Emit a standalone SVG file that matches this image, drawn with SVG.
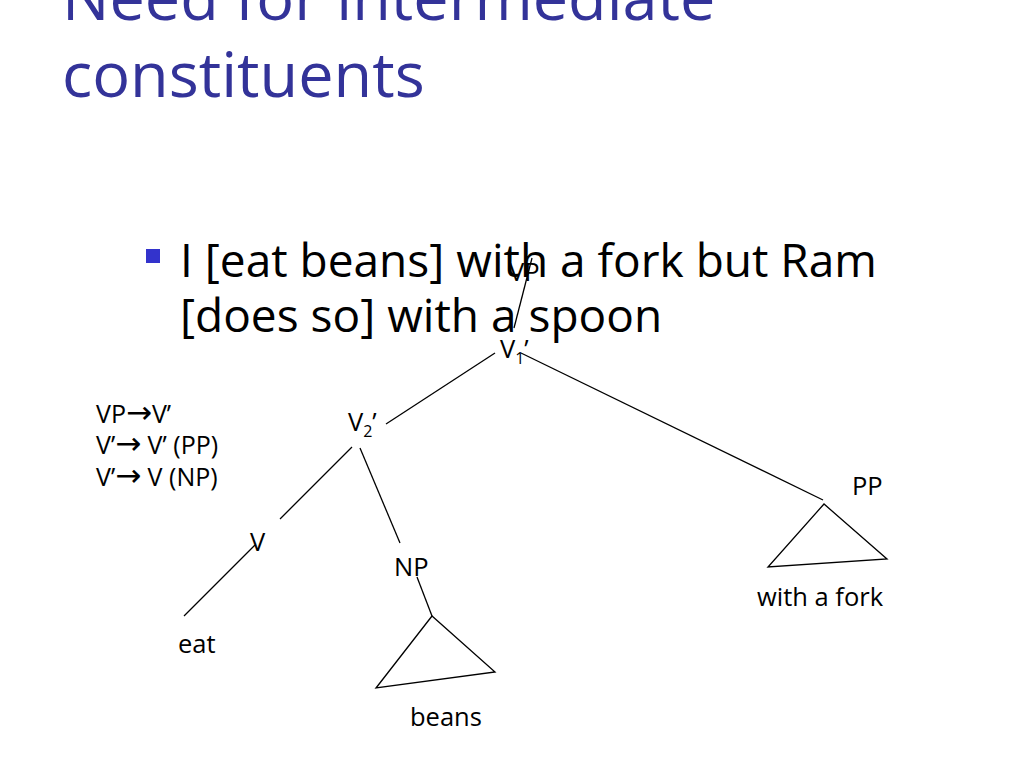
<svg xmlns="http://www.w3.org/2000/svg" width="1024" height="768" viewBox="0 0 1024 768">
<style>
.title{font-family:"Open Sans","Noto Sans",sans-serif;font-size:63px;fill:#333399}
.body{font-family:"Open Sans","Noto Sans",sans-serif;font-size:46px;fill:#000}
.lbl{font-family:"Open Sans","Noto Sans",sans-serif;font-size:25.5px;fill:#000}
.rule{font-family:"Open Sans","Noto Sans",sans-serif;font-size:25px;fill:#000}
.arr{font-family:"DejaVu Sans",sans-serif;font-size:31px}
.sub{font-size:16px}
.edge{stroke:#000;stroke-width:1.3;fill:none}
</style>
<rect width="1024" height="768" fill="#fff"/>
<g id="title">
<text class="title" x="62" y="20">Need for intermediate</text>
<text class="title" x="62" y="97">constituents</text>
</g>
<g id="bullet">
<rect x="146" y="249" width="14" height="14" fill="#3333cc"/>
<text class="body" x="180" y="277">I [eat beans] with a fork but Ram</text>
<text class="body" x="180" y="332">[does so] with a spoon</text>
</g>
<g id="rules">
<text class="rule" x="96" y="423">VP<tspan class="arr">→</tspan>V’</text>
<text class="rule" x="96" y="454">V’<tspan class="arr">→</tspan> V’ (PP)</text>
<text class="rule" x="96" y="486">V’<tspan class="arr">→</tspan> V (NP)</text>
</g>
<g id="connectors">
<line class="edge" x1="532" y1="258" x2="514" y2="328"/>
<line class="edge" x1="495" y1="353" x2="386" y2="424"/>
<line class="edge" x1="521" y1="353" x2="823" y2="500"/>
<line class="edge" x1="352" y1="447" x2="280" y2="519"/>
<line class="edge" x1="255" y1="545" x2="184" y2="616"/>
<line class="edge" x1="360" y1="448" x2="400" y2="543"/>
<line class="edge" x1="417" y1="577" x2="432" y2="616"/>
</g>
<g id="node-VP"><text class="lbl" x="509" y="281" font-size="22">VP</text></g>
<g id="node-V1"><text class="lbl" x="500" y="358">V<tspan class="sub" dy="6">1</tspan><tspan dy="-6">’</tspan></text></g>
<g id="node-V2"><text class="lbl" x="348" y="431">V<tspan class="sub" dy="6">2</tspan><tspan dy="-6">’</tspan></text></g>
<g id="node-V"><text class="lbl" x="250" y="551">V</text></g>
<g id="node-eat"><text class="lbl" x="178" y="653">eat</text></g>
<g id="node-NP"><text class="lbl" x="394" y="576">NP</text></g>
<g id="node-beans">
<polygon class="edge" points="432,616 376,688 495,672"/>
<text class="lbl" x="410" y="726">beans</text>
</g>
<g id="node-PP"><text class="lbl" x="852" y="495">PP</text></g>
<g id="node-withafork">
<polygon class="edge" points="824,504 768,567 887,559"/>
<text class="lbl" x="757" y="606">with a fork</text>
</g>
</svg>
